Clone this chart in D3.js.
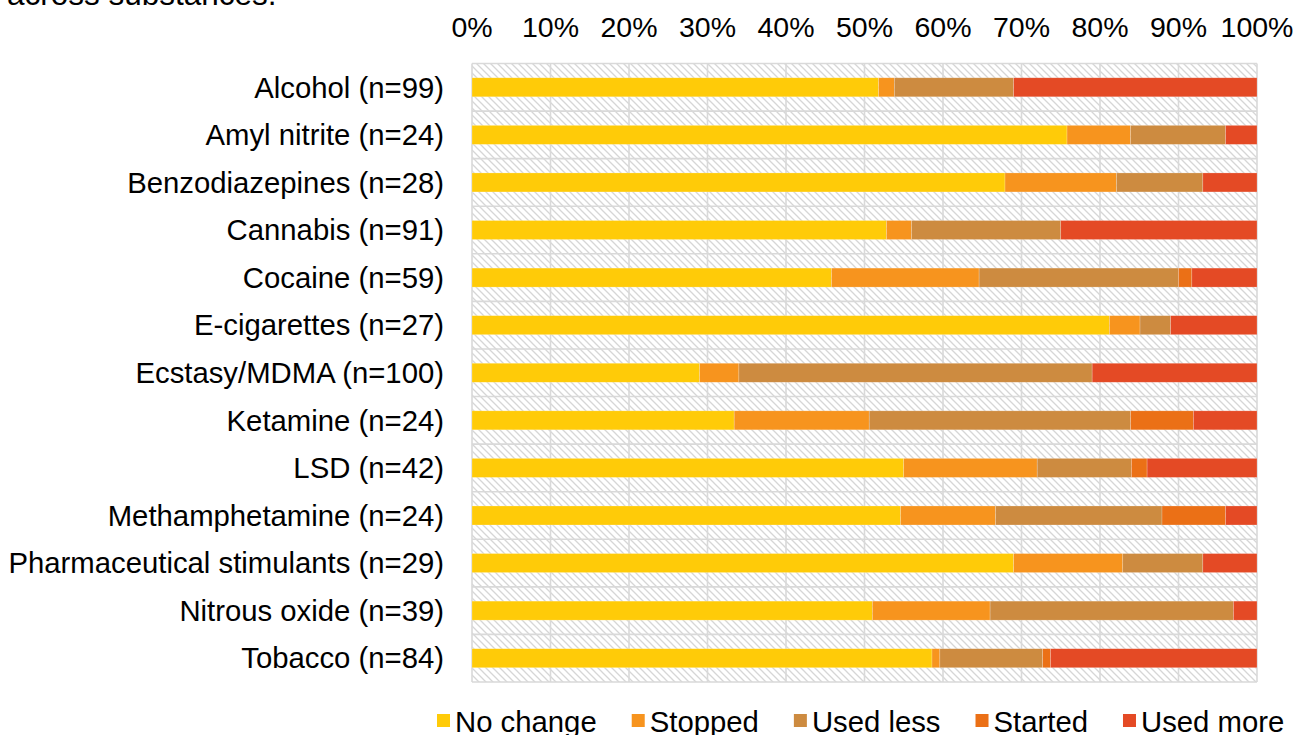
<!DOCTYPE html>
<html>
<head>
<meta charset="utf-8">
<script src="https://d3js.org/d3.v7.min.js"></script>
<style>
  body { margin: 0; background: #fff; }
  svg { display: block; font-family: "Liberation Sans", Arial, sans-serif; }
</style>
</head>
<body>
<div id="chart"></div>
<script>
// substances with sample sizes (top to bottom)
const substances = [
  "Alcohol (n=99)", "Amyl nitrite (n=24)", "Benzodiazepines (n=28)", "Cannabis (n=91)",
  "Cocaine (n=59)", "E-cigarettes (n=27)", "Ecstasy/MDMA (n=100)", "Ketamine (n=24)",
  "LSD (n=42)", "Methamphetamine (n=24)", "Pharmaceutical stimulants (n=29)",
  "Nitrous oxide (n=39)", "Tobacco (n=84)"
];
const categories = ["No change", "Stopped", "Used less", "Started", "Used more"];

// percentages per category, same order as substances
const noChange = [51.8, 75.8, 67.9, 52.8, 45.8, 81.2, 29.0, 33.4, 55.0, 54.6, 69.0, 51.0, 58.6];
const stopped  = [ 2.0,  8.1, 14.2,  3.2, 18.8,  3.9,  5.0, 17.2, 17.0, 12.1, 13.9, 15.0,  1.0];
const usedLess = [15.2, 12.1, 11.0, 19.0, 25.4,  3.9, 45.0, 33.3, 12.0, 21.2, 10.2, 31.0, 13.1];
const started  = [ 0.0,  0.0,  0.0,  0.0,  1.7,  0.0,  0.0,  8.0,  2.0,  8.1,  0.0,  0.0,  1.0];
const usedMore = [31.0,  4.0,  6.9, 25.0,  8.3, 11.0, 21.0,  8.1, 14.0,  4.0,  6.9,  3.0, 26.3];

const xTicks = d3.range(0, 101, 10);

const colors = ["#FFCB08", "#F7941E", "#CD8B40", "#EB7016", "#E44A25"];

const width = 1313, height = 735;
const margin = {top: 63.5, right: 56, bottom: 53, left: 472};

const rows = substances.map((s, i) => ({
  name: s,
  "No change": noChange[i], "Stopped": stopped[i], "Used less": usedLess[i],
  "Started": started[i], "Used more": usedMore[i]
}));

const svg = d3.select("#chart").append("svg")
  .attr("width", width).attr("height", height);

// hatched plot background
const defs = svg.append("defs");
defs.append("pattern")
    .attr("id", "hatch")
    .attr("patternUnits", "userSpaceOnUse")
    .attr("width", 7).attr("height", 7)
  .call(p => p.append("rect").attr("width", 7).attr("height", 7).attr("fill", "#fff"))
  .call(p => p.append("path")
    .attr("d", "M-1,-1 L8,8 M-1,6 L1,8 M6,-1 L8,1")
    .attr("stroke", "#d6d6d6").attr("stroke-width", 1.3));

const x = d3.scaleLinear().domain([0, 100]).range([margin.left, width - margin.right]);
const y = d3.scaleBand().domain(substances)
  .range([margin.top, height - margin.bottom]).paddingInner(0).paddingOuter(0);

svg.append("rect")
  .attr("x", x(0)).attr("y", y.range()[0])
  .attr("width", x(100) - x(0)).attr("height", y.range()[1] - y.range()[0])
  .attr("fill", "url(#hatch)");

// gridlines
const grid = svg.append("g").attr("stroke", "#d9d9d9").attr("stroke-width", 1.6);
grid.selectAll("line.v").data(xTicks).join("line")
  .attr("class", "v")
  .attr("x1", d => x(d)).attr("x2", d => x(d))
  .attr("y1", y.range()[0]).attr("y2", y.range()[1]);
grid.selectAll("line.h").data(substances.map(s => y(s)).concat([y.range()[1]])).join("line")
  .attr("class", "h")
  .attr("x1", x(0)).attr("x2", x(100))
  .attr("y1", d => d).attr("y2", d => d);

// stacked bars
const stack = d3.stack().keys(categories);
const series = stack(rows);
const barH = 19;

svg.append("g").selectAll("g").data(series).join("g")
    .attr("fill", (d, i) => colors[i])
  .selectAll("rect").data(d => d).join("rect")
    .attr("x", d => x(d[0]))
    .attr("y", d => y(d.data.name) + y.bandwidth() / 2 - barH / 2)
    .attr("width", d => Math.max(0, x(d[1]) - x(d[0])))
    .attr("height", barH)
    .attr("stroke", "rgba(255,255,255,0.35)")
    .attr("stroke-width", 0.6);

// top axis labels
svg.append("g").selectAll("text").data(xTicks).join("text")
  .attr("x", d => x(d)).attr("y", 37)
  .attr("text-anchor", "middle")
  .attr("font-size", 28.5).attr("fill", "#000")
  .text(d => d + "%");

// category labels
svg.append("g").selectAll("text").data(substances).join("text")
  .attr("x", 444)
  .attr("y", d => y(d) + y.bandwidth() / 2)
  .attr("dy", "0.35em")
  .attr("text-anchor", "end")
  .attr("font-size", 29.3).attr("fill", "#000")
  .text(d => d);

// cut-off title at the very top
svg.append("text")
  .attr("x", 7).attr("y", 5)
  .attr("font-size", 31.5).attr("fill", "#000")
  .text("across substances.");

// legend
const legend = svg.append("g");
let lx = 437;
categories.forEach((c, i) => {
  const g = legend.append("g").attr("transform", `translate(${lx},0)`);
  g.append("rect").attr("x", 0).attr("y", 714).attr("width", 13).attr("height", 13).attr("fill", colors[i]);
  const t = g.append("text").attr("x", 18).attr("y", 732)
    .attr("font-size", 29.3).attr("fill", "#000").text(c);
  lx += 18 + t.node().getComputedTextLength() + 35;
});
</script>
</body>
</html>
